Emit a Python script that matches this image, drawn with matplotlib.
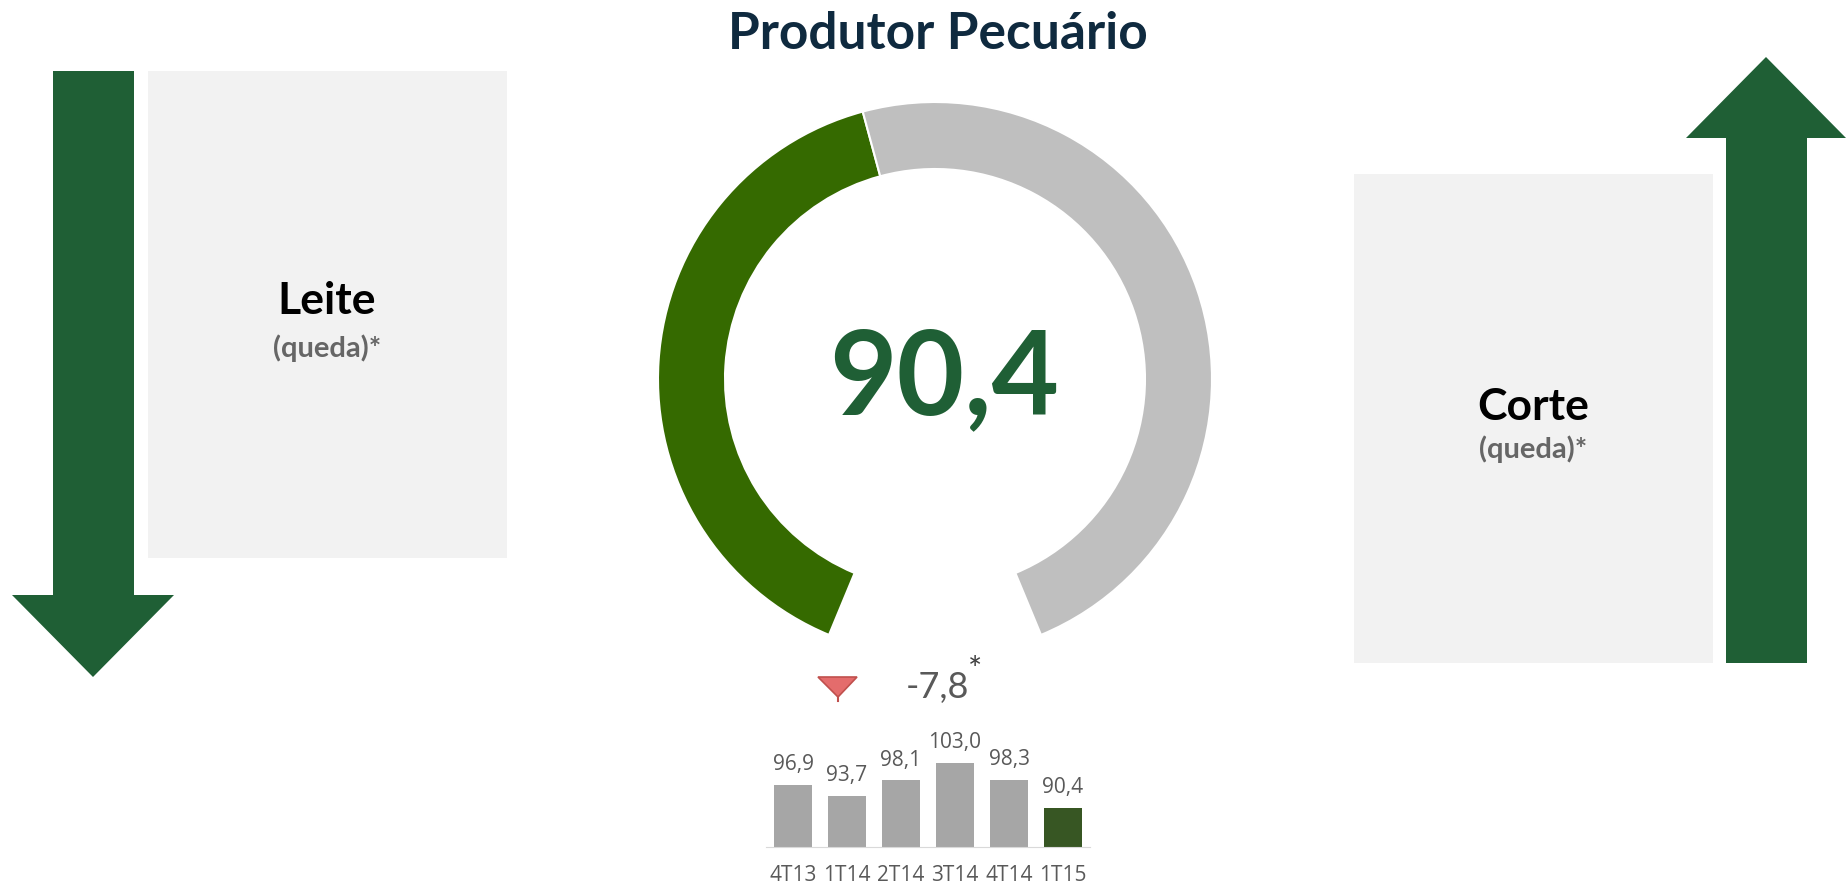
import matplotlib
matplotlib.use("Agg")
import matplotlib.pyplot as plt
from matplotlib.patches import Polygon, Rectangle

# Data
TITLE        = "Produtor Pecuário"
GAUGE_VALUE  = 90.4
GAUGE_MAX    = 200.0
GAUGE_GAP    = GAUGE_MAX * 45 / 315      # hidden part that opens the ring at the bottom
VALUE_LABEL  = "90,4"
CHANGE_LABEL = "-7,8"
quarters     = ["4T13", "1T14", "2T14", "3T14", "4T14", "1T15"]
index_values = [96.9, 93.7, 98.1, 103.0, 98.3, 90.4]
value_labels = ["96,9", "93,7", "98,1", "103,0", "98,3", "90,4"]
left_name, left_note   = "Leite", "(queda)*"
right_name, right_note = "Corte", "(queda)*"

# Colours
ARROW   = "#1F5F35"
BOX     = "#F2F2F2"
ARC_ON  = "#356A00"
ARC_OFF = "#BFBFBF"
NAVY    = "#0F2A3F"
GREY_TX = "#595959"

W, H = 1846, 884
plt.rcParams["font.family"] = ["Lato", "DejaVu Sans"]

fig = plt.figure(figsize=(W / 100, H / 100), dpi=100)

# Background layer in pixel coordinates
ax = fig.add_axes([0, 0, 1, 1])
ax.set_xlim(0, W); ax.set_ylim(H, 0)
ax.axis("off")

ax.add_patch(Rectangle((148, 71), 359, 487, color=BOX, lw=0))
ax.add_patch(Rectangle((1354, 174), 359, 489, color=BOX, lw=0))

# down arrow (left) and up arrow (right)
ax.add_patch(Polygon([(53, 71), (134, 71), (134, 595), (174, 595), (93, 677),
                      (12, 595), (53, 595)], closed=True, color=ARROW, lw=0))
ax.add_patch(Polygon([(1726, 663), (1807, 663), (1807, 138), (1846, 138), (1766, 57),
                      (1686, 138), (1726, 138)], closed=True, color=ARROW, lw=0))

ax.text(938, 49, TITLE, ha="center", va="baseline", fontsize=37,
        fontweight="bold", color=NAVY)
ax.text(327, 314, left_name, ha="center", va="baseline", fontsize=32,
        fontweight="bold", color="black")
ax.text(327, 357, left_note, ha="center", va="baseline", fontsize=21,
        fontweight="bold", color="#666666")
ax.text(1533, 420, right_name, ha="center", va="baseline", fontsize=32,
        fontweight="bold", color="black")
ax.text(1533, 458, right_note, ha="center", va="baseline", fontsize=21,
        fontweight="bold", color="#666666")

ax.text(944, 414, VALUE_LABEL, ha="center", va="baseline", fontsize=84,
        fontweight="bold", color=ARROW)

# change indicator
ax.add_patch(Polygon([(818, 677), (857, 677), (838, 697)], closed=True,
                     facecolor="#E46C6C", edgecolor="#C0504D", lw=1.2))
ax.plot([838, 838], [697, 701], color="#C0504D", lw=1.5)
ax.text(937, 698, CHANGE_LABEL, ha="center", va="baseline", fontsize=26,
        color=GREY_TX)
ax.text(975, 680, "*", ha="center", va="baseline", fontsize=24, color="#404040")

# Gauge (open doughnut)
cx, cy, r_out, r_in = 935, 379, 277, 210
axg = fig.add_axes([(cx - r_out) / W, (H - cy - r_out) / H, 2 * r_out / W, 2 * r_out / H])
wedges, _ = axg.pie([GAUGE_VALUE, GAUGE_MAX - GAUGE_VALUE, GAUGE_GAP],
                    colors=[ARC_ON, ARC_OFF, "white"], startangle=247.5,
                    counterclock=False, radius=1,
                    wedgeprops=dict(width=(r_out - r_in) / r_out,
                                    edgecolor="white", linewidth=1.5))
wedges[2].set_visible(False)
axg.set_xlim(-1, 1); axg.set_ylim(-1, 1)
axg.patch.set_visible(False)

# Mini bar chart
base_y, y0, px_per_unit = 847, 79.3, 3.55
ytop = 110
axb = fig.add_axes([766 / W, (H - base_y) / H, 324 / W,
                    (ytop - y0) * px_per_unit / H])
bar_colors = ["#A6A6A6"] * (len(quarters) - 1) + ["#375623"]
bars = axb.bar(range(len(quarters)), index_values, width=0.69, color=bar_colors)
axb.bar_label(bars, labels=value_labels, padding=7, fontsize=15,
              color=GREY_TX, family=["Open Sans", "DejaVu Sans"])
axb.set_xlim(-0.5, len(quarters) - 0.5)
axb.set_ylim(y0, ytop)
axb.set_xticks(range(len(quarters)), labels=quarters)
axb.tick_params(axis="x", length=0, pad=13, labelsize=15, labelcolor=GREY_TX)
for lab in axb.get_xticklabels():
    lab.set_family(["Open Sans", "DejaVu Sans"])
axb.set_yticks([])
for s in ["top", "left", "right"]:
    axb.spines[s].set_visible(False)
axb.spines["bottom"].set_color("#D9D9D9")
axb.patch.set_visible(False)

fig.savefig("out.png", dpi=100)
